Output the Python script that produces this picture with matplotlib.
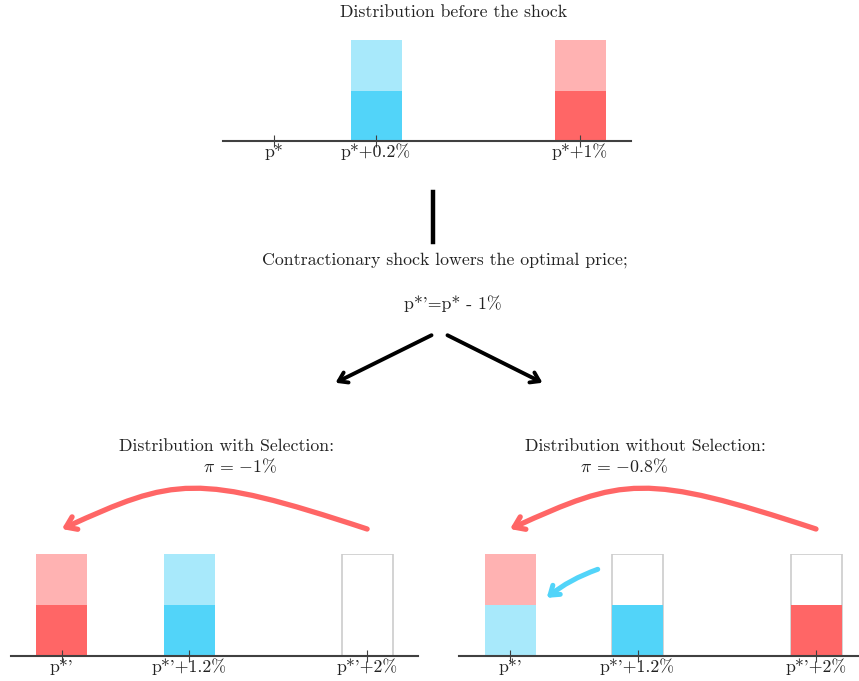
import matplotlib
matplotlib.use("Agg")
import matplotlib.pyplot as plt
from matplotlib.patches import FancyArrowPatch, ArrowStyle
from matplotlib.path import Path

plt.rcParams["font.family"] = ["cmr10", "DejaVu Serif"]
plt.rcParams["mathtext.fontset"] = "cm"
plt.rcParams["axes.unicode_minus"] = False

FIG_W, FIG_H = 859, 681

BLUE = "#52D4F9"
RED = "#FF6666"
EDGE = "#CCCCCC"
AXIS = "#404040"

# before the shock
TOP_TICKS = [0, 1, 3]
TOP_LABELS = ["p*", "p*+0.2%", "p*+1%"]
TOP_BAR_POS = [1, 3]
TOP_LOWER = [0.5, 0.5]
TOP_UPPER = [0.5, 0.5]
TOP_COLORS = [BLUE, RED]

# after the shock
BOT_TICKS = [0, 1.25, 3]
BOT_LABELS = ["p*'", "p*'+1.2%", "p*'+2%"]

SEL_LOWER = [0.5, 0.5, 0.0]
SEL_UPPER = [0.5, 0.5, 0.0]
SEL_LOWER_COLORS = [RED, BLUE, RED]
SEL_UPPER_COLORS = [RED, BLUE, RED]
SEL_HOLLOW = [False, False, True]

NOSEL_LOWER = [0.5, 0.5, 0.5]
NOSEL_UPPER = [0.5, 0.0, 0.0]
NOSEL_LOWER_COLORS = [BLUE, BLUE, RED]
NOSEL_LOWER_ALPHA = [0.5, 1.0, 1.0]
NOSEL_UPPER_COLORS = [RED, RED, RED]
NOSEL_HOLLOW = [False, True, True]

# arrow control points (data coords of the lower panels)
RED_CURVE = [(3.0, 1.245), (1.31, 1.80), (1.11, 1.75), (0.0, 1.245)]
BLUE_CURVE = [(0.86, 0.85), (0.58, 0.75), (0.36, 0.57)]


def fx(px):
    return px / FIG_W


def fy(py):
    return 1 - py / FIG_H


def style_axis(ax, ticks, labels):
    ax.set_xlim(-0.5, 3.5)
    ax.set_ylim(0, 1)
    for side in ["left", "right", "top"]:
        ax.spines[side].set_visible(False)
    ax.spines["bottom"].set_color(AXIS)
    ax.spines["bottom"].set_linewidth(1.5)
    ax.set_yticks([])
    ax.set_xticks(ticks)
    ax.set_xticklabels(labels)
    ax.tick_params(axis="x", direction="inout", length=8, width=0.8,
                   color=AXIS, pad=-2.5, labelsize=12.8, labelcolor="#222222")
    ax.patch.set_alpha(0)


def draw_panel(ax, lower, upper, lower_colors, upper_colors, hollow,
               lower_alpha=None):
    width = 0.5
    for i, x in enumerate(BOT_TICKS):
        if hollow[i]:
            ax.bar(x, 1.0, width=width, facecolor="white", edgecolor=EDGE,
                   linewidth=1.2)
        a = 1.0 if lower_alpha is None else lower_alpha[i]
        if lower[i] > 0:
            ax.bar(x, lower[i], width=width, color=lower_colors[i], alpha=a,
                   linewidth=0)
        if upper[i] > 0:
            ax.bar(x, upper[i], bottom=lower[i], width=width,
                   color=upper_colors[i], alpha=0.5, linewidth=0)


def curve_arrow(ax, pts, color, lw, head):
    if len(pts) == 4:
        codes = [Path.MOVETO, Path.CURVE4, Path.CURVE4, Path.CURVE4]
    else:
        codes = [Path.MOVETO, Path.CURVE3, Path.CURVE3]
    arrow = FancyArrowPatch(path=Path(pts, codes),
                            arrowstyle=ArrowStyle("->", head_length=head,
                                                  head_width=head * 0.7),
                            color=color, linewidth=lw, capstyle="round",
                            transform=ax.transData, clip_on=False)
    ax.add_patch(arrow)


fig = plt.figure(figsize=(FIG_W / 100, FIG_H / 100), dpi=100)

# top panel
ax_top = fig.add_axes([fx(223), fy(141), fx(631) - fx(223), fy(40) - fy(141)])
style_axis(ax_top, TOP_TICKS, TOP_LABELS)
for x, lo, up, c in zip(TOP_BAR_POS, TOP_LOWER, TOP_UPPER, TOP_COLORS):
    ax_top.bar(x, lo, width=0.5, color=c, linewidth=0)
    ax_top.bar(x, up, bottom=lo, width=0.5, color=c, alpha=0.5, linewidth=0)

# lower panels
h = fy(554) - fy(656)
ax_sel = fig.add_axes([fx(11), fy(656), fx(418) - fx(11), h])
style_axis(ax_sel, BOT_TICKS, BOT_LABELS)
draw_panel(ax_sel, SEL_LOWER, SEL_UPPER, SEL_LOWER_COLORS, SEL_UPPER_COLORS,
           SEL_HOLLOW)
curve_arrow(ax_sel, RED_CURVE, RED, 3.8, 7)

ax_nos = fig.add_axes([fx(459), fy(656), fx(867) - fx(459), h])
style_axis(ax_nos, BOT_TICKS, BOT_LABELS)
draw_panel(ax_nos, NOSEL_LOWER, NOSEL_UPPER, NOSEL_LOWER_COLORS,
           NOSEL_UPPER_COLORS, NOSEL_HOLLOW, NOSEL_LOWER_ALPHA)
curve_arrow(ax_nos, RED_CURVE, RED, 3.8, 7)
curve_arrow(ax_nos, BLUE_CURVE, BLUE, 3.6, 6)

# texts
txt = dict(fontsize=12.8, color="#222222", ha="center", va="center")
fig.text(fx(454), fy(12), "Distribution before the shock", **txt)
fig.text(fx(445), fy(260), "Contractionary shock lowers the optimal price;",
         **txt)
fig.text(fx(453), fy(304), "p*'=p* - 1%", **txt)
fig.text(fx(227), fy(446), "Distribution with Selection:", **txt)
fig.text(fx(240), fy(466), r"$\pi$ = $-$1%", **txt)
fig.text(fx(645), fy(446), "Distribution without Selection:", **txt)
fig.text(fx(624), fy(466), r"$\pi$ = $-$0.8%", **txt)

# flow lines
fig.add_artist(plt.Line2D([fx(433), fx(433)], [fy(192), fy(242)],
                          color="black", linewidth=3.2,
                          transform=fig.transFigure))
for start, end in [((434, 334), (333, 384)), ((445, 334), (545, 384))]:
    fig.add_artist(FancyArrowPatch((fx(start[0]), fy(start[1])),
                                   (fx(end[0]), fy(end[1])),
                                   arrowstyle=ArrowStyle("->", head_length=6,
                                                         head_width=4),
                                   color="black", linewidth=2.8,
                                   transform=fig.transFigure))

fig.savefig("out.png", dpi=100)
